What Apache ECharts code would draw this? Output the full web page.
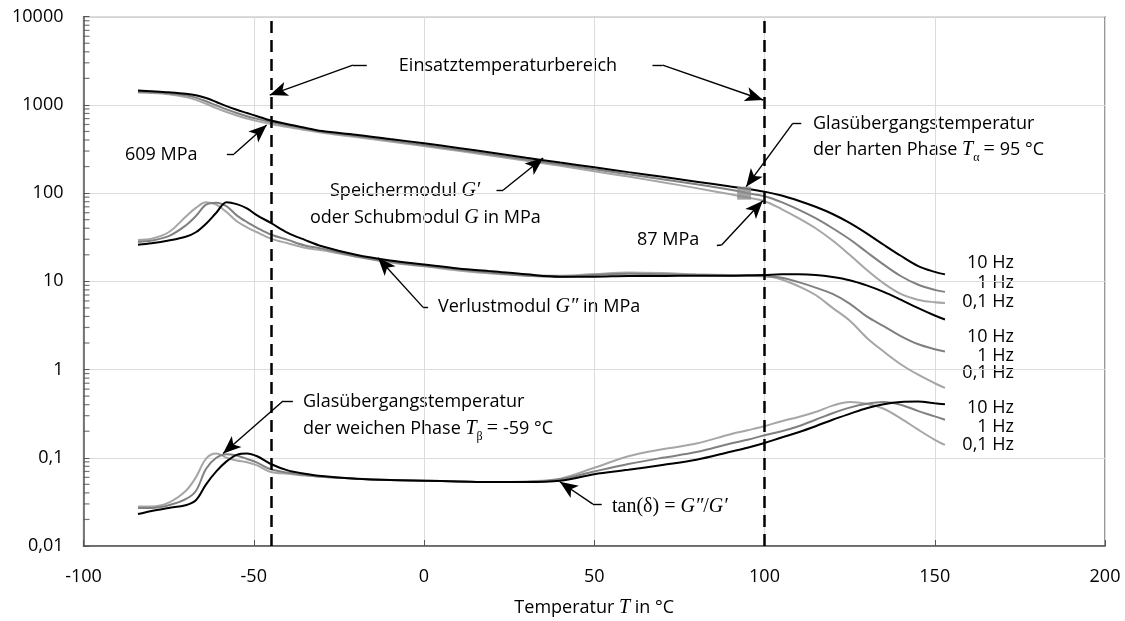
<!DOCTYPE html>
<html>
<head>
<meta charset="utf-8">
<script src="https://cdn.jsdelivr.net/npm/echarts@6/dist/echarts.min.js"></script>
<style>
  html, body { margin: 0; padding: 0; background: #fff; }
  #chart { width: 1125px; height: 621px; }
</style>
</head>
<body>
<div id="chart"></div>
<script>
// Temperaturen (°C), gemeinsam für alle Kurven
const temps = [-84, -80, -75, -70, -67, -64, -61, -58, -55, -52, -49, -45, -40, -35, -30, -20, -10, 0, 10, 20,
  30, 40, 50, 60, 70, 80, 90, 95, 100, 105, 110, 115, 120, 125, 130, 135, 140, 145, 150, 153]

// Speichermodul G' (MPa)
const storage10 = [1460, 1430, 1390, 1340, 1290, 1200, 1080, 970, 880, 810, 745, 665, 605, 551, 506, 460, 410, 368, 325, 287,
  252, 222, 196, 173, 153, 135, 119, 112, 104, 94, 82, 70, 58, 46, 35, 26, 19.5, 15, 12.8, 12]
const storage1 = [1410, 1395, 1360, 1290, 1210, 1100, 990, 890, 810, 745, 695, 640, 585, 540, 500, 445, 398, 352, 311, 274,
  241, 212, 187, 164, 144, 126, 109, 100, 92, 79, 65, 52, 40, 30, 21.5, 15.5, 11.5, 9.2, 8, 7.6]
const storage01 = [1380, 1365, 1320, 1230, 1140, 1030, 920, 830, 760, 700, 655, 609, 560, 520, 485, 432, 386, 342, 302, 266,
  233, 204, 177, 154, 133, 114, 97, 89, 81, 66, 52, 40, 29, 20, 13.5, 9.5, 7.2, 6.2, 5.8, 5.7]

// Verlustmodul G'' (MPa)
const loss10 = [26, 27, 29, 32, 36, 45, 60, 79, 75, 67, 56, 46, 35.5, 29.5, 25, 20, 17.2, 15.5, 14, 13,
  12, 11.3, 11.3, 11.5, 11.5, 11.6, 11.6, 11.7, 11.8, 12, 12, 11.8, 11.2, 10.3, 9, 7.6, 6.2, 5, 4.1, 3.7]
const loss1 = [28, 29, 32.5, 43, 55, 74, 78, 71, 56, 47, 40.5, 34, 29.5, 25.5, 23.5, 19.3, 16.7, 15, 13.7, 12.5,
  11.6, 11.3, 11.8, 12.2, 12, 11.8, 11.6, 11.5, 11.4, 11, 9.8, 8.5, 7.2, 5.6, 4, 3.1, 2.4, 1.95, 1.7, 1.6]
const loss01 = [29.5, 30.5, 36, 54, 68, 79, 74, 61, 48, 41, 36, 30.5, 27, 24, 22.5, 19, 16.4, 14.8, 13.3, 12.3,
  11.7, 11.6, 12.1, 12.6, 12.4, 12, 11.8, 11.6, 11.5, 10.5, 8.8, 7, 5, 3.6, 2.3, 1.6, 1.15, 0.88, 0.7, 0.62]

// Verlustfaktor tan(δ)
const tan10 = [0.023, 0.025, 0.027, 0.029, 0.033, 0.05, 0.07, 0.091, 0.108, 0.112, 0.104, 0.085, 0.072, 0.066, 0.062, 0.058, 0.056, 0.055, 0.054, 0.053,
  0.053, 0.055, 0.065, 0.073, 0.083, 0.095, 0.117, 0.13, 0.147, 0.17, 0.195, 0.228, 0.27, 0.315, 0.365, 0.405, 0.43, 0.435, 0.415, 0.405]
const tan1 = [0.027, 0.027, 0.029, 0.034, 0.042, 0.075, 0.1, 0.11, 0.106, 0.097, 0.088, 0.074, 0.068, 0.064, 0.061, 0.058, 0.056, 0.055, 0.054, 0.053,
  0.053, 0.057, 0.07, 0.085, 0.1, 0.116, 0.145, 0.16, 0.18, 0.2, 0.228, 0.27, 0.32, 0.37, 0.41, 0.43, 0.4, 0.34, 0.295, 0.27]
const tan01 = [0.028, 0.028, 0.031, 0.042, 0.06, 0.098, 0.112, 0.1, 0.093, 0.089, 0.082, 0.069, 0.066, 0.063, 0.061, 0.058, 0.056, 0.055, 0.054, 0.053,
  0.054, 0.058, 0.077, 0.104, 0.125, 0.145, 0.185, 0.205, 0.228, 0.26, 0.29, 0.33, 0.39, 0.43, 0.41, 0.36, 0.28, 0.21, 0.16, 0.14]

const yTickLabels = ['0,01', '0,1', '1', '10', '100', '1000', '10000']
const freqLabels = ['10 Hz', '1 Hz', '0,1 Hz']
const usageRange = [-45, 100]          // Einsatztemperaturbereich
const glassPointHard = [94, 100]       // T_alpha Markierung

// Pfeile: [Start, Knick, Spitze] in Datenkoordinaten
const arrows = [
  [[-16.8, 2830], [-20.9, 2830], [-45.3, 1294]],
  [[67.1, 2830], [70.1, 2830], [99.6, 1138]],
  [[-57.9, 277], [-55.8, 277], [-46.2, 592]],
  [[21.3, 108], [23.2, 108], [35, 250]],
  [[86.0, 25.5], [87.4, 25.8], [99.5, 82]],
  [[110.8, 618], [108.3, 618], [94.6, 118]],
  [[1.2, 5.07], [-0.25, 5.07], [-13.5, 18.5]],
  [[-38.5, 0.44], [-41.4, 0.44], [-59, 0.112]],
  [[52.2, 0.0298], [49.6, 0.0298], [39.9, 0.0535]]
]

const FONT = 'Open Sans'
const SERIF = 'Liberation Serif'
const colors = ['#000000', '#808080', '#a6a6a6']

const chart = echarts.init(document.getElementById('chart'))

const curve = (vals, color, z) => ({
  type: 'line',
  data: temps.map((t, i) => [t, vals[i]]),
  smooth: 0.35,
  symbol: 'none',
  silent: true,
  z: z,
  lineStyle: { color: color, width: 2 }
})

// kleine Zwischenstriche der log-Achse
const minorTicks = []
;[0.01, 0.1, 1, 10, 100, 1000].forEach(d => {
  for (let m = 2; m <= 9; m++) minorTicks.push([-100, m * d])
})

const arrowLines = []
arrows.forEach(a => {
  arrowLines.push([{ coord: a[0], symbol: 'none' }, { coord: a[1], symbol: 'none' }])
  arrowLines.push([{ coord: a[1], symbol: 'none' }, { coord: a[2], symbol: 'arrow', symbolSize: [11, 18] }])
})

const txt = (x, y, text, align) => ({
  type: 'text',
  x: x,
  y: y,
  silent: true,
  style: {
    text: text,
    fill: '#000',
    fontFamily: FONT,
    fontSize: 18,
    align: align || 'left',
    verticalAlign: 'middle',
    rich: {
      n: { fontFamily: FONT, fontSize: 18, fill: '#000' },
      it: { fontFamily: SERIF, fontStyle: 'italic', fontSize: 20, fill: '#000' },
      rm: { fontFamily: SERIF, fontSize: 20, fill: '#000' },
      sub: { fontFamily: SERIF, fontSize: 12, fill: '#000', padding: [15, 4, 0, 0] }
    }
  }
})

const freqY = [[263, 283, 302], [337, 356, 373], [408, 427, 445]]
const graphics = [
  txt(508, 66, 'Einsatztemperaturbereich', 'center'),
  txt(125, 155, '609 MPa'),
  txt(330, 191, '{n|Speichermodul }{it|G′}'),
  txt(310, 218, '{n|oder Schubmodul }{it|G}{n| in MPa}'),
  txt(637, 240, '87 MPa'),
  txt(813, 124, 'Glasübergangstemperatur'),
  txt(813, 150, '{n|der harten Phase }{it|T}{sub|α}{rm|= }{n|95 °C}'),
  txt(438, 307, '{n|Verlustmodul }{it|G″}{n| in MPa}'),
  txt(303, 402, 'Glasübergangstemperatur'),
  txt(303, 429, '{n|der weichen Phase }{it|T}{sub|β}{rm|= }{n|-59 °C}'),
  txt(612, 507, '{rm|tan(δ) = }{it|G″}{rm|/}{it|G′}')
]
freqY.forEach(group => group.forEach((y, i) => graphics.push(txt(1014, y, freqLabels[i], 'right'))))

chart.setOption({
  animation: false,
  backgroundColor: '#fff',
  grid: {
    left: 83.5, right: 20, top: 16.7, bottom: 75,
    show: true, borderColor: '#555', borderWidth: 1.2,
    outerBoundsMode: 'none'
  },
  xAxis: {
    type: 'value',
    min: -100, max: 200, interval: 50,
    name: '{n|Temperatur }{it|T}{n| in °C}',
    nameLocation: 'middle',
    nameGap: 52,
    nameTextStyle: {
      rich: {
        n: { fontFamily: FONT, fontSize: 18, color: '#000' },
        it: { fontFamily: SERIF, fontStyle: 'italic', fontSize: 20, color: '#000' }
      }
    },
    axisLine: { onZero: false, lineStyle: { color: '#555', width: 1.5 } },
    axisTick: { inside: true, length: 6, lineStyle: { color: '#555' } },
    axisLabel: { color: '#000', fontFamily: FONT, fontSize: 18, margin: 22 },
    splitLine: { show: true, lineStyle: { color: '#dcdcdc', width: 1 } }
  },
  yAxis: {
    type: 'log',
    logBase: 10,
    min: 0.01, max: 10000,
    axisLine: { show: true, onZero: false, lineStyle: { color: '#555', width: 1.5 } },
    axisTick: { inside: true, length: 6, lineStyle: { color: '#555' } },
    axisLabel: {
      color: '#000', fontFamily: FONT, fontSize: 18, margin: 20,
      formatter: (v, i) => yTickLabels[i]
    },
    splitLine: { show: true, lineStyle: { color: '#dcdcdc', width: 1 } }
  },
  series: [
    curve(storage01, colors[2], 2), curve(storage1, colors[1], 3), curve(storage10, colors[0], 4),
    curve(loss01, colors[2], 2), curve(loss1, colors[1], 3), curve(loss10, colors[0], 4),
    curve(tan01, colors[2], 2), curve(tan1, colors[1], 3), curve(tan10, colors[0], 4),
    {
      type: 'scatter',
      data: minorTicks,
      symbol: 'rect',
      symbolSize: [6, 1.2],
      symbolOffset: [3, 0],
      clip: false,
      silent: true,
      itemStyle: { color: '#555' }
    },
    {
      type: 'scatter',
      data: [glassPointHard],
      symbol: 'rect',
      symbolSize: [14, 13],
      silent: true,
      z: 6,
      itemStyle: { color: '#8c8c8c' }
    },
    {
      type: 'line',
      data: [],
      silent: true,
      markLine: {
        silent: true,
        symbol: 'none',
        label: { show: false },
        lineStyle: { color: '#000', width: 2.5, type: [12, 7] },
        data: usageRange.map(t => ({ xAxis: t }))
      }
    },
    {
      type: 'line',
      data: [],
      silent: true,
      z: 7,
      markLine: {
        silent: true,
        label: { show: false },
        lineStyle: { color: '#000', width: 1.4, type: 'solid' },
        itemStyle: { color: '#000' },
        emphasis: { disabled: true },
        data: arrowLines
      }
    }
  ],
  graphic: graphics
})
</script>
</body>
</html>
